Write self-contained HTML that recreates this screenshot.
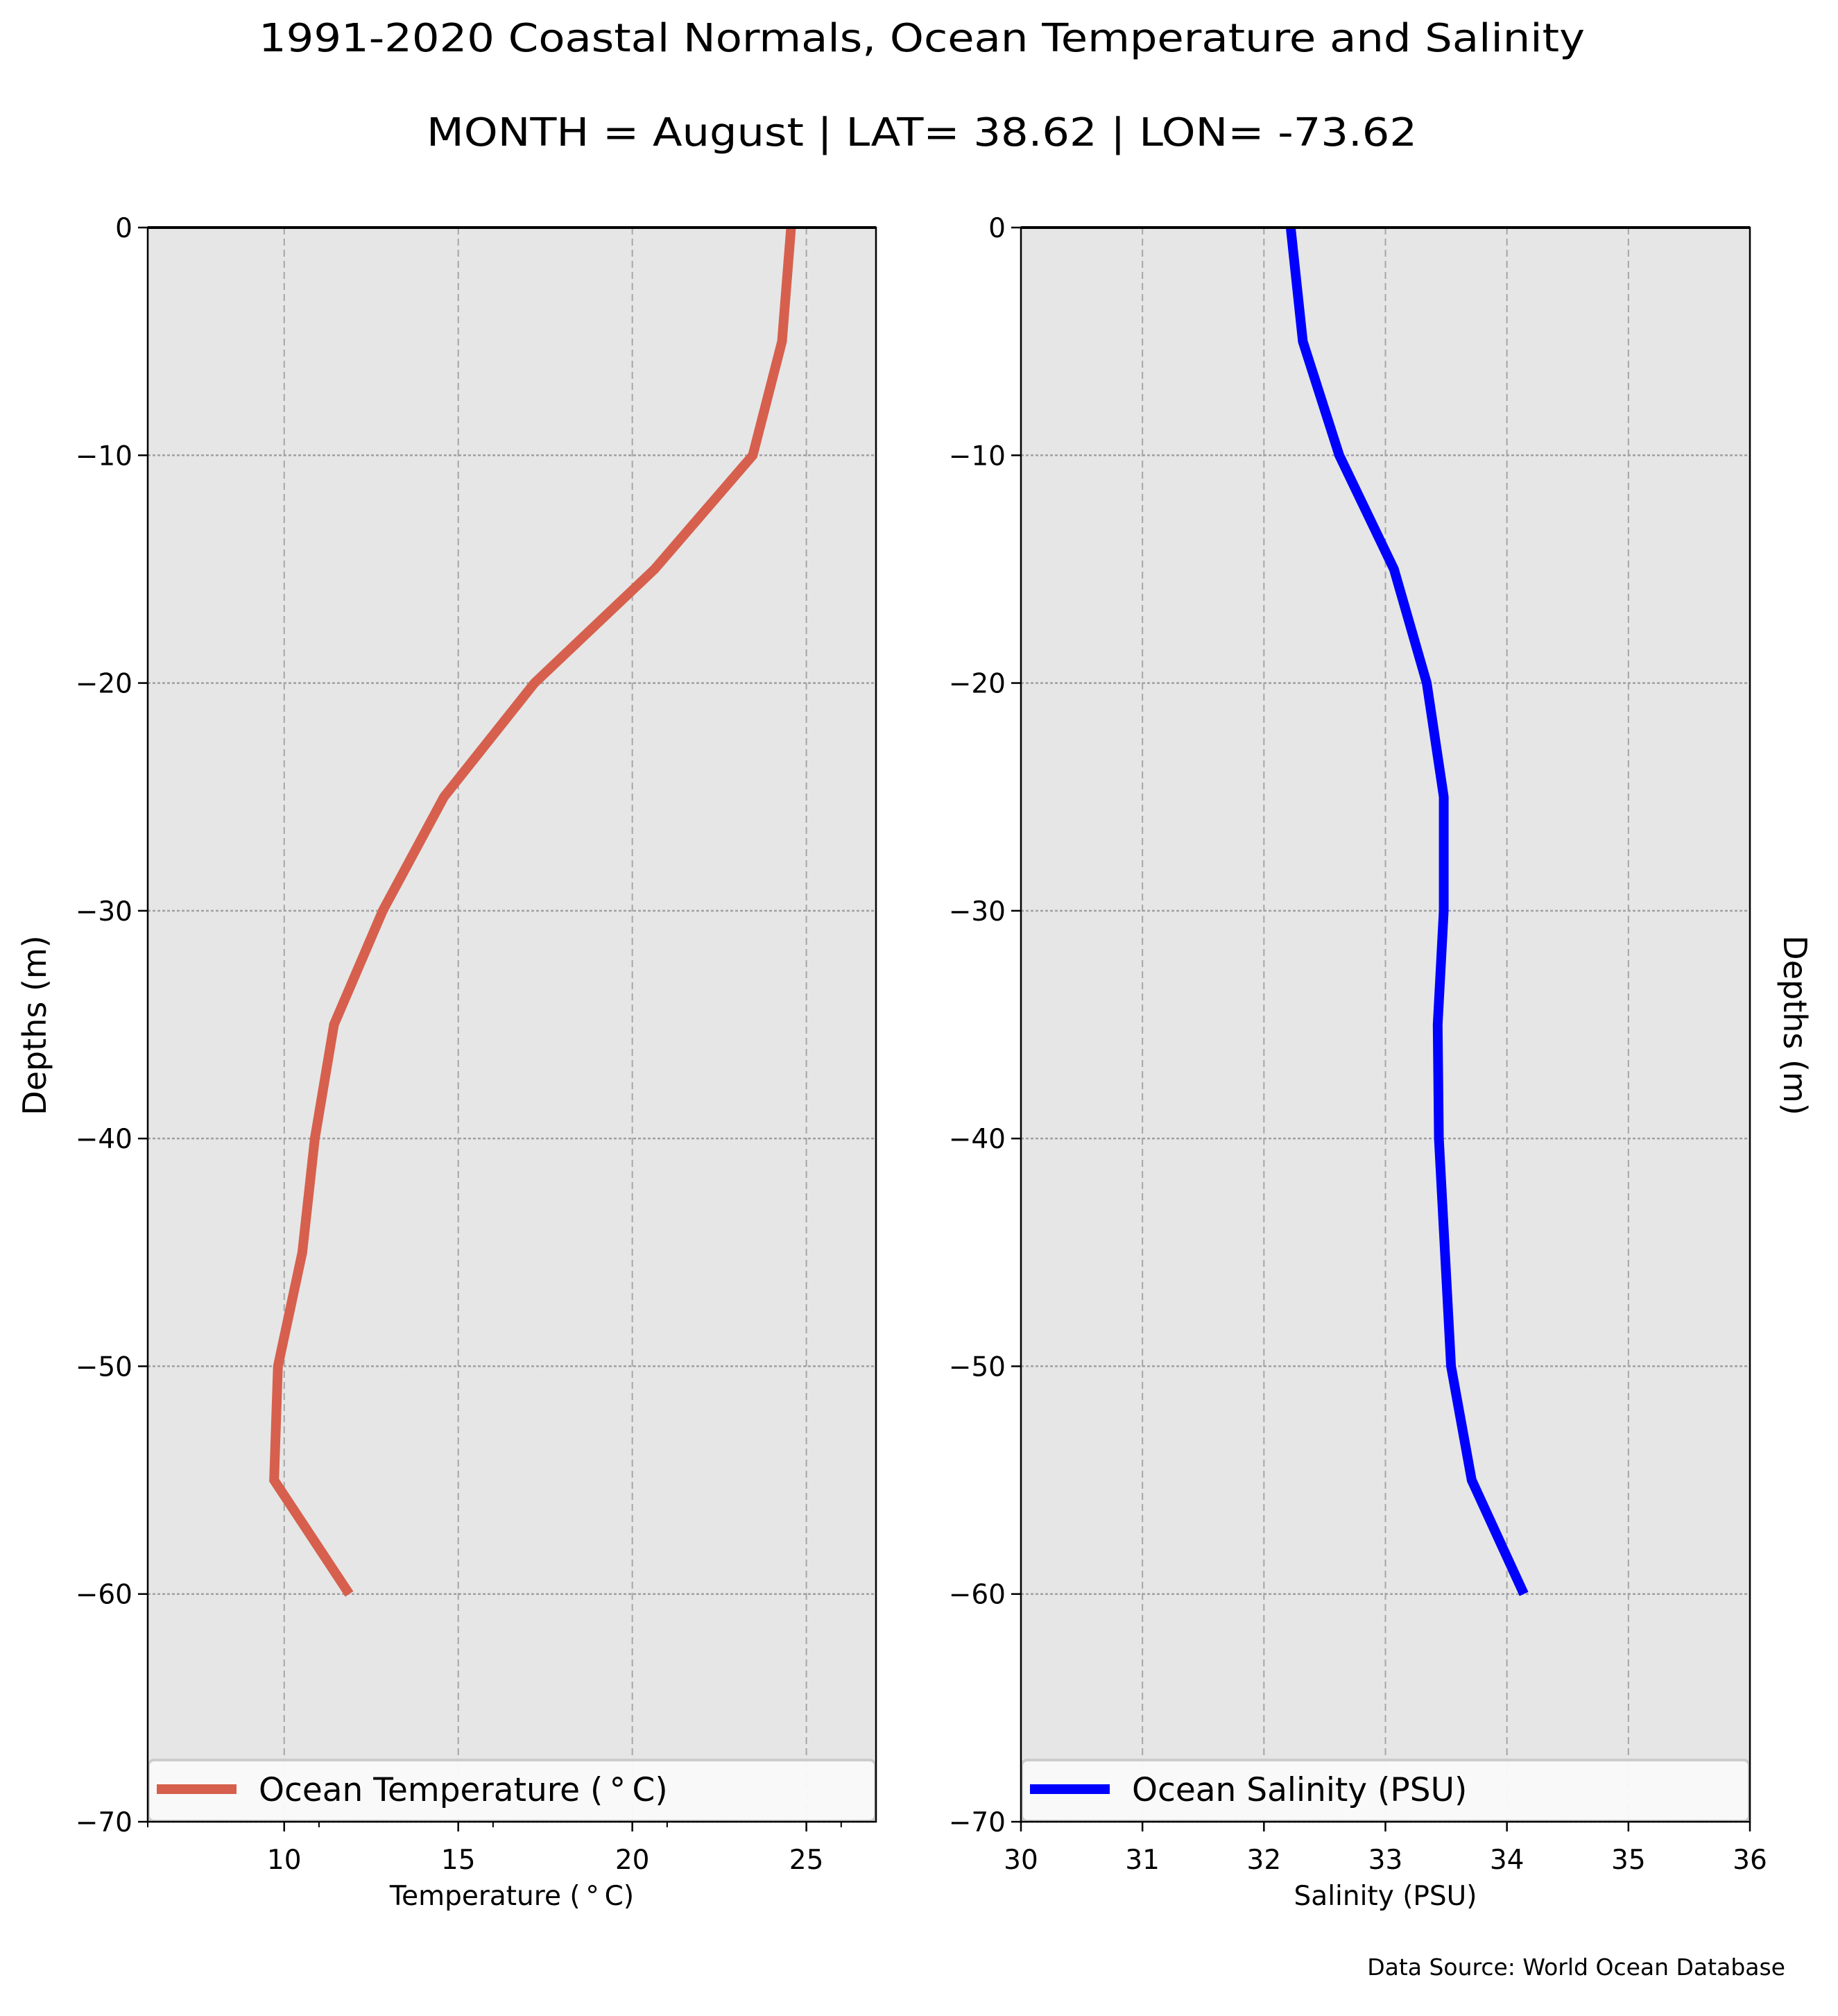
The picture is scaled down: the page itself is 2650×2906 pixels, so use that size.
<!DOCTYPE html>
<html><head><meta charset="utf-8"><style>
html,body{margin:0;padding:0;background:#fff;}
svg text{font-family:"DejaVu Sans","Liberation Sans",sans-serif;fill:#000;}
</style></head><body>
<svg id="fig" xmlns="http://www.w3.org/2000/svg" width="2650" height="2901" viewBox="0 0 2650 2901">
<text x="1329" y="74" font-size="56" text-anchor="middle" textLength="1912" lengthAdjust="spacingAndGlyphs">1991-2020 Coastal Normals, Ocean Temperature and Salinity</text>
<text x="1329" y="210" font-size="56" text-anchor="middle" textLength="1428" lengthAdjust="spacingAndGlyphs">MONTH = August | LAT= 38.62 | LON= -73.62</text>
<text x="2574" y="2847" font-size="33" text-anchor="end">Data Source: World Ocean Database</text>
<g id="p1"></g>
<g id="p2"></g>
</svg>
<script>
const depths = [0,-5,-10,-15,-20,-25,-30,-35,-40,-45,-50,-55,-60];
const temperature = [24.56,24.3,23.46,20.64,17.19,14.59,12.83,11.43,10.88,10.52,9.82,9.71,11.87];
const salinity = [32.22,32.32,32.62,33.07,33.34,33.48,33.48,33.43,33.44,33.49,33.54,33.71,34.14];
const yTicks = [0,-10,-20,-30,-40,-50,-60,-70];
const tempTicks = [10,15,20,25];
const tempMinor = [11,16,21,26];
const salTicks = [30,31,32,33,34,35,36];

const NS='http://www.w3.org/2000/svg';
function mk(parent,tag,attrs){const e=document.createElementNS(NS,tag);for(const k in attrs)e.setAttribute(k,attrs[k]);parent.appendChild(e);return e;}

function panel(g,opt){
  const L=opt.x0,R=opt.x1,T=328,B=2626;
  const sx=v=>L+(v-opt.xmin)/(opt.xmax-opt.xmin)*(R-L);
  const sy=d=>T+(d-0)/(-70-0)*(B-T);
  const bg=mk(g,'rect',{x:L,y:T,width:R-L,height:B-T,fill:'#e6e6e6'});
  
  
  opt.ticks.forEach(v=>{
    const l=mk(g,'line',{x1:sx(v),x2:sx(v),y1:T,y2:B,stroke:'#a6a6a6','stroke-width':2,'stroke-dasharray':'10,6'});
    
    
  });
  yTicks.forEach(d=>{
    const l=mk(g,'line',{x1:L,x2:R,y1:sy(d),y2:sy(d),stroke:'#a0a0a0','stroke-width':2.5,'stroke-dasharray':'4,3'});
    
    
  });
  const pts=depths.map((d,i)=>sx(opt.vals[i])+','+sy(d)).join(' ');
  const pl=mk(g,'polyline',{points:pts,fill:'none',stroke:opt.color,'stroke-width':14,'stroke-linejoin':'miter'});
  
  
  const lg=mk(g,'g',{});
  
  
  mk(lg,'rect',{x:L+1,y:2537,width:R-L-2,height:88,rx:8,fill:'#fafafa','fill-opacity':0.95,stroke:'#cccccc','stroke-width':4});
  mk(lg,'line',{x1:L+13,x2:L+128,y1:2579,y2:2579,stroke:opt.color,'stroke-width':14});
  const lt=mk(lg,'text',{x:L+160,y:2596,'font-size':47});
  lt.textContent=opt.legend;
  
  
  mk(g,'rect',{x:L,y:T,width:R-L,height:B-T,fill:'none',stroke:'#000','stroke-width':2.5});
  mk(g,'line',{x1:L,x2:R,y1:T,y2:T,stroke:'#000','stroke-width':4});
  yTicks.forEach(d=>{
    mk(g,'line',{x1:L-14,x2:L,y1:sy(d),y2:sy(d),stroke:'#000','stroke-width':2.5});
    const t=mk(g,'text',{x:L-22,y:sy(d)+14,'font-size':39,'text-anchor':'end'});
    t.textContent=(d<0?'\u2212'+(-d):String(d));
    
    
  });
  opt.ticks.forEach(v=>{
    mk(g,'line',{x1:sx(v),x2:sx(v),y1:B,y2:B+14,stroke:'#000','stroke-width':2.5});
    const t=mk(g,'text',{x:sx(v),y:2694,'font-size':39,'text-anchor':'middle'});
    t.textContent=String(v);
    
    
  });
  (opt.minor||[]).forEach(v=>{
    mk(g,'line',{x1:sx(v),x2:sx(v),y1:B,y2:B+8,stroke:'#000','stroke-width':2});
  });
  if(opt.leftEdgeTick) mk(g,'line',{x1:L,x2:L,y1:B,y2:B+8,stroke:'#000','stroke-width':2});
  const xl=mk(g,'text',{x:(L+R)/2,y:2746,'font-size':39,'text-anchor':'middle'});
  xl.textContent=opt.xlabel;
  
  
  const yl=mk(g,'text',{x:0,y:0,'font-size':46,'text-anchor':'middle',transform:opt.ylabelTransform});
  yl.textContent='Depths (m)';
  
  
}
panel(document.getElementById('p1'),{x0:213,x1:1263,xmin:6.08,xmax:27.0,vals:temperature,ticks:tempTicks,minor:tempMinor,leftEdgeTick:true,color:'#d6604d',lineName:'temperature-line',legend:'Ocean Temperature (\u2009\u00b0\u2009C)',xlabel:'Temperature (\u2009\u00b0\u2009C)',ylabelTransform:'translate(66,1478) rotate(-90)'});
panel(document.getElementById('p2'),{x0:1472,x1:2523,xmin:30,xmax:36,vals:salinity,ticks:salTicks,color:'#0000ff',lineName:'salinity-line',legend:'Ocean Salinity (PSU)',xlabel:'Salinity (PSU)',ylabelTransform:'translate(2572,1478) rotate(90)'});
</script>
</body></html>
